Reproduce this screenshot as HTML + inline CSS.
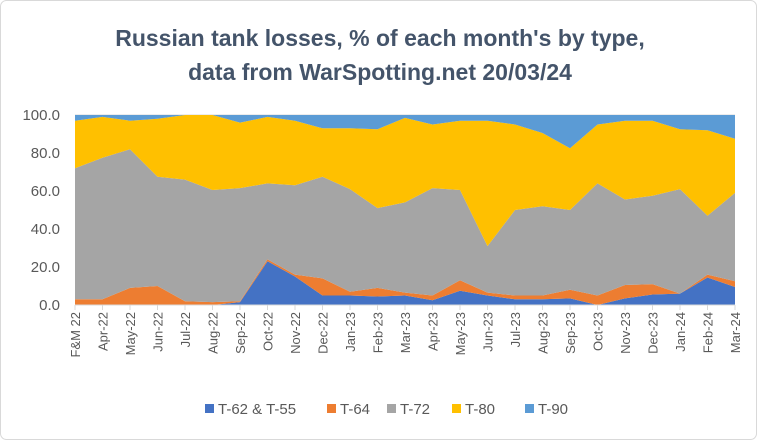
<!DOCTYPE html>
<html><head><meta charset="utf-8"><style>
body{margin:0;background:#fff;font-family:"Liberation Sans",sans-serif}
#c{position:absolute;left:0;top:0;width:757px;height:440px}
</style></head><body>
<svg id="c" width="757" height="440">
<rect x="0.5" y="0.5" width="756" height="439" rx="6" fill="#fff" stroke="#d9d9d9"/>
<text x="380" y="46" text-anchor="middle" font-size="23" font-weight="bold" fill="#44546a">Russian tank losses, % of each month's by type,</text>
<text x="380" y="80" text-anchor="middle" font-size="23" font-weight="bold" fill="#44546a">data from WarSpotting.net 20/03/24</text>
<g id="plot"></g>
</svg>
<script>
const categories=["F&M 22","Apr-22","May-22","Jun-22","Jul-22","Aug-22","Sep-22","Oct-22","Nov-22","Dec-22","Jan-23","Feb-23","Mar-23","Apr-23","May-23","Jun-23","Jul-23","Aug-23","Sep-23","Oct-23","Nov-23","Dec-23","Jan-24","Feb-24","Mar-24"];
const t62=[0,0,0,0,0,0,1.5,23,15,5,5,4.5,5,2.5,7.5,5,3,3,3.5,0,3.5,5.5,6,14.5,9.5];
const t64=[3,3,9,10,2,1.5,0.5,1,1,9,2,4.5,1.5,2.5,5.5,1.5,2,2,4.5,5,7,5.5,0,1.5,3];
const t72=[69,74.5,73,57.5,64,59,59.5,40,47,53.5,54,42,47.5,56.5,47.5,24.5,45,47,42,59,45,46.5,55,31,46.5];
const t80=[25,21.5,15,30.5,34,39.5,34.5,35,34,25.5,32,41.5,44.5,33.5,36.5,66,45,38.5,32.5,31,41.5,39.5,31.5,45,28.5];
const t90=[3,1,3,2,0,0,4,1,3,7,7,7.5,1.5,5,3,3,5,9.5,17.5,5,3,3,7.5,8,12.5];
const yTicks=["0.0","20.0","40.0","60.0","80.0","100.0"];
const seriesNames=["T-62 & T-55","T-64","T-72","T-80","T-90"];
const series=[t62,t64,t72,t80,t90];
const colors=["#4472c4","#ed7d31","#a5a5a5","#ffc000","#5b9bd5"];
const NS="http://www.w3.org/2000/svg";
const g=document.getElementById('plot');
const x0=75,x1=735,y0=305,y1=115;
const X=i=>x0+i*(x1-x0)/(categories.length-1);
const Y=v=>y0-(v/100)*(y0-y1);
function mk(t,a){const e=document.createElementNS(NS,t);for(const k in a)e.setAttribute(k,a[k]);g.appendChild(e);return e;}
yTicks.forEach((t,i)=>{const v=i*20;
 const l=mk('line',{x1:x0,x2:x1,y1:Y(v),y2:Y(v),stroke:'#d9d9d9'});
 
 
 const tx=mk('text',{x:60,y:Y(v)+5,'text-anchor':'end','font-size':15,fill:'#595959'});tx.textContent=t;
 
 
});
let base=categories.map(()=>0);
series.forEach((s,k)=>{
 const top=base.map((b,i)=>b+s[i]);
 let d='M'+top.map((v,i)=>X(i)+','+Y(v)).join('L');
 for(let i=categories.length-1;i>=0;i--)d+='L'+X(i)+','+Y(base[i]);
 const p=mk('path',{d:d+'Z',fill:colors[k]});
 
 
 base=top;
});
const ax=mk('line',{x1:x0,x2:x1,y1:y0,y2:y0,stroke:'#d9d9d9'});


categories.forEach((c,i)=>{
 const tk=mk('line',{x1:X(i),x2:X(i),y1:y0,y2:y0+5,stroke:'#d9d9d9'});
 
 
 const t=mk('text',{transform:`translate(${X(i)+5},312) rotate(-90)`,'text-anchor':'end','font-size':13,fill:'#595959'});
 t.textContent=c;
 
 
});
const lx=[205,327,387,452,525];
seriesNames.forEach((n,k)=>{
 const r=mk('rect',{x:lx[k],y:404,width:9,height:9,fill:colors[k]});
 
 
 const t=mk('text',{x:lx[k]+13,y:414,'font-size':15,fill:'#595959'});t.textContent=n;
 
 
});
</script>
</body></html>
